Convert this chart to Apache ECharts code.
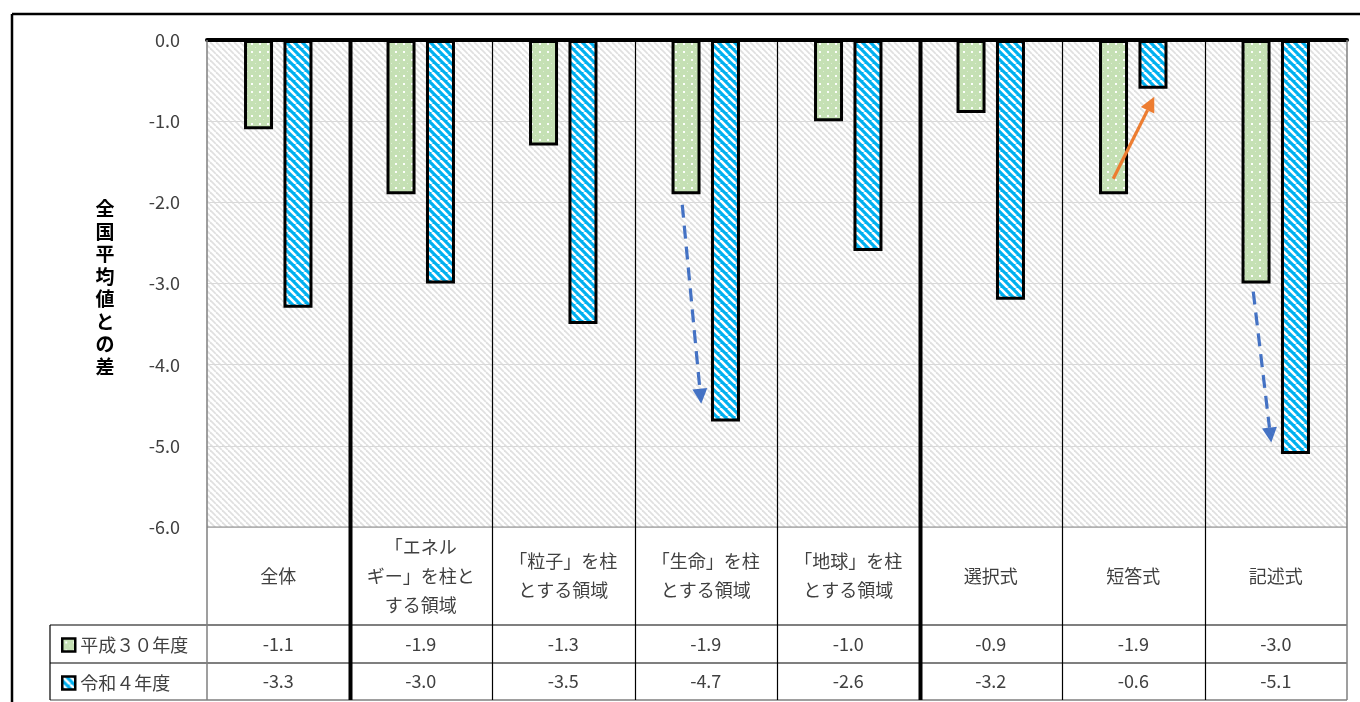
<!DOCTYPE html>
<html>
<head>
<meta charset="utf-8">
<script src="https://cdn.jsdelivr.net/npm/echarts@6/dist/echarts.min.js"></script>
<style>
  html, body { margin: 0; padding: 0; background: #ffffff; }
  #chart { width: 1360px; height: 702px; }
</style>
</head>
<body>
<div id="chart"></div>
<script>
// ---- data ----
const categories = [
  '全体',
  '「エネル\nギー」を柱と\nする領域',
  '「粒子」を柱\nとする領域',
  '「生命」を柱\nとする領域',
  '「地球」を柱\nとする領域',
  '選択式',
  '短答式',
  '記述式'
];
const seriesNames = ['平成３０年度', '令和４年度'];
const valuesH30 = [-1.1, -1.9, -1.3, -1.9, -1.0, -0.9, -1.9, -3.0];
const valuesR4  = [-3.3, -3.0, -3.5, -4.7, -2.6, -3.2, -0.6, -5.1];
const yMin = -6, yMax = 0, yStep = 1;
const yAxisTitle = '全国平均値との差';
// categories that start a new group (drawn with a heavy separator before them)
const groupStarts = [1, 5];

// ---- layout & style ----
const FONT = "'Noto Sans CJK JP', 'Noto Sans', sans-serif";
const TEXT = '#404040';
const W = 1360, H = 702;
const G = { left: 207, right: 13, top: 40, bottom: 175 };
const plotBottom = H - G.bottom;          // 527
const rowTops = [625, 663, 700];          // table value rows
const tableLeft = 50;

function makeCanvas(w, h) {
  const c = document.createElement('canvas');
  c.width = w; c.height = h;
  return c;
}
function stripes(bg, fg, size, lw) {
  const c = makeCanvas(size, size), g = c.getContext('2d');
  g.fillStyle = bg; g.fillRect(0, 0, size, size);
  g.strokeStyle = fg; g.lineWidth = lw;
  for (const k of [-size, 0, size]) {
    g.beginPath(); g.moveTo(k, 0); g.lineTo(k + size, size); g.stroke();
  }
  return { image: c, repeat: 'repeat' };
}
function dots(bg) {
  const c = makeCanvas(8, 8), g = c.getContext('2d');
  g.fillStyle = bg; g.fillRect(0, 0, 8, 8);
  g.fillStyle = 'rgba(255,255,255,0.95)'; g.fillRect(3, 3, 2, 2);
  g.fillStyle = 'rgba(255,255,255,0.45)'; g.fillRect(7, 7, 1, 1);
  return { image: c, repeat: 'repeat' };
}

const greenFill = dots('#c5e0b4');
const blueFill = stripes('#00b0f0', '#ffffff', 8, 2.6);
const plotHatch = stripes('#ffffff', '#e0e0e0', 6, 1.8);

const fmt = v => v.toFixed(1);

function bottomAxis(data, margin, fontSize, lineHeight) {
  return {
    type: 'category',
    data: data,
    gridIndex: 0,
    position: 'bottom',
    axisLine: { show: false, onZero: false },
    axisTick: { show: false },
    splitLine: { show: false },
    axisLabel: {
      interval: 0, margin: margin, verticalAlign: 'middle',
      color: TEXT, fontFamily: FONT, fontSize: fontSize, lineHeight: lineHeight
    }
  };
}
const rowCenter = i => (rowTops[i] + rowTops[i + 1]) / 2 - plotBottom;

const option = {
  animation: false,
  backgroundColor: '#ffffff',
  grid: {
    left: G.left, right: G.right, top: G.top, bottom: G.bottom,
    outerBoundsMode: 'none',
    show: true, backgroundColor: plotHatch, borderWidth: 0
  },
  legend: {
    orient: 'vertical',
    left: 56, top: 630,
    icon: 'rect',
    itemWidth: 13, itemHeight: 13, itemGap: 18,
    itemStyle: { borderColor: '#000', borderWidth: 2.5 },
    textStyle: { color: TEXT, fontFamily: FONT, fontSize: 18, lineHeight: 20 },
    selectedMode: false,
    data: seriesNames
  },
  xAxis: [
    {
      type: 'category', data: categories, gridIndex: 0, position: 'top',
      axisLine: { show: true, onZero: false, lineStyle: { color: '#000', width: 4 } },
      axisTick: { show: false }, axisLabel: { show: false }, splitLine: { show: false }
    },
    bottomAxis(categories, 49, 18, 29),
    bottomAxis(valuesH30.map(fmt), rowCenter(0), 18, 20),
    bottomAxis(valuesR4.map(fmt), rowCenter(1), 18, 20)
  ],
  yAxis: {
    type: 'value', min: yMin, max: yMax, interval: yStep,
    axisLine: { show: false }, axisTick: { show: false },
    axisLabel: { formatter: v => fmt(v), margin: 27, color: TEXT, fontFamily: FONT, fontSize: 18 },
    splitLine: { show: true, lineStyle: { color: '#d9d9d9', width: 1 } }
  },
  series: [
    {
      name: seriesNames[0], type: 'bar', xAxisIndex: 0, data: valuesH30,
      barWidth: 29, barGap: '36%',
      itemStyle: { color: greenFill, borderColor: '#000', borderWidth: 3 }
    },
    {
      name: seriesNames[1], type: 'bar', xAxisIndex: 0, data: valuesR4,
      barWidth: 29, barGap: '36%',
      itemStyle: { color: blueFill, borderColor: '#000', borderWidth: 3 }
    }
  ]
};

const chart = echarts.init(document.getElementById('chart'), null, { renderer: 'canvas' });
chart.setOption(option);

// ---- frame, table rules, annotations ----
const plotLeft = G.left, plotRight = W - G.right;
const band = (plotRight - plotLeft) / categories.length;
const tableBottom = rowTops[2];

function line(x1, y1, x2, y2, stroke, lw, z) {
  return { type: 'line', z: z || 5, silent: true,
    shape: { x1, y1, x2, y2 }, style: { stroke, lineWidth: lw } };
}
function arrow(p0, p1, color, dashed) {
  const dx = p1[0] - p0[0], dy = p1[1] - p0[1], len = Math.hypot(dx, dy);
  const ux = dx / len, uy = dy / len, nx = -uy, ny = ux;
  const headLen = 15, headW = 7.5;
  const bx = p1[0] - ux * headLen, by = p1[1] - uy * headLen;
  return [
    { type: 'line', z: 20, silent: true,
      shape: { x1: p0[0], y1: p0[1], x2: bx, y2: by },
      style: { stroke: color, lineWidth: 3.2, lineDash: dashed ? [13, 8] : null } },
    { type: 'polygon', z: 20, silent: true,
      shape: { points: [[p1[0], p1[1]], [bx + nx * headW, by + ny * headW], [bx - nx * headW, by - ny * headW]] },
      style: { fill: color } }
  ];
}
function at(cat, value, dx) {
  const p = chart.convertToPixel({ xAxisIndex: 0, yAxisIndex: 0 }, [cat, value]);
  return [p[0] + dx, p[1]];
}

const g = [];
// outer frame
g.push(line(12, 14, W, 14, '#000', 2.5, 30));
g.push(line(12, 14, 12, H, '#000', 2.5, 30));
// plot bottom and table rules
g.push(line(plotLeft, plotBottom, plotRight, plotBottom, '#8c8c8c', 1));
g.push(line(tableLeft, rowTops[0], plotRight, rowTops[0], '#000', 1.2));
g.push(line(tableLeft, rowTops[1], plotRight, rowTops[1], '#000', 1.2));
g.push(line(tableLeft, tableBottom, plotRight, tableBottom, '#7f7f7f', 1.5));
g.push(line(tableLeft, rowTops[0], tableLeft, tableBottom, '#000', 1.2));
g.push(line(plotLeft, G.top, plotLeft, tableBottom, '#7f7f7f', 1.5));
g.push(line(plotRight, G.top, plotRight, tableBottom, '#7f7f7f', 1.5));
for (let i = 1; i < categories.length; i++) {
  const x = Math.round(plotLeft + i * band) + 0.5;
  const heavy = groupStarts.includes(i);
  g.push(line(x, G.top, x, tableBottom, '#000', heavy ? 4 : 1.2, heavy ? 8 : 5));
}
// vertical axis title
g.push({
  type: 'text', z: 10, silent: true,
  style: {
    x: 105, y: 288, text: yAxisTitle.split('').join('\n'),
    align: 'center', verticalAlign: 'middle',
    fill: '#000', font: "bold 19px " + FONT, lineHeight: 22.5
  }
});
// change arrows between the two survey years
g.push(...arrow(at(3, -2.03, -23.5), at(3, -4.48, -4.5), '#4472c4', true));
g.push(...arrow(at(7, -3.10, -22.5), at(7, -4.96, -4.5), '#4472c4', true));
g.push(...arrow(at(6, -1.71, -20), at(6, -0.70, 21), '#ed7d31', false));

chart.setOption({ graphic: g });
</script>
</body>
</html>
